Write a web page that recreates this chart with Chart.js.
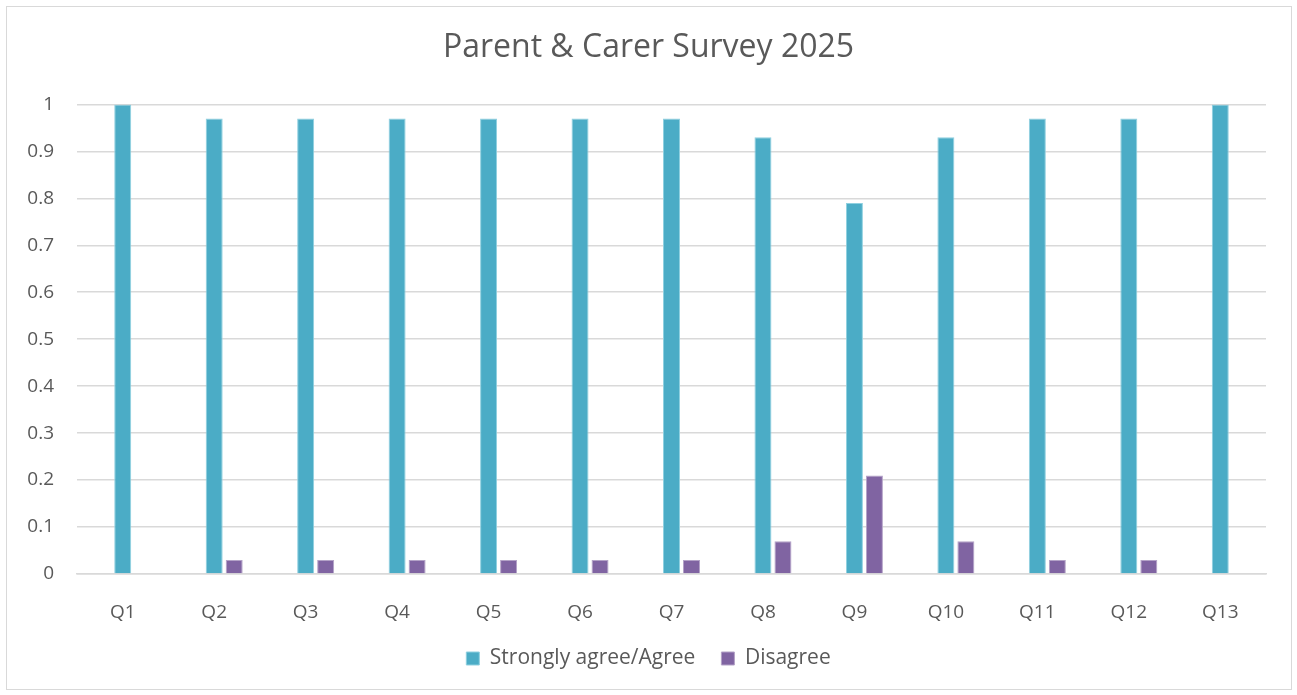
<!DOCTYPE html>
<html>
<head>
<meta charset="utf-8">
<script src="https://cdn.jsdelivr.net/npm/chart.js@4"></script>
<style>
  html, body { margin: 0; padding: 0; background: #fff; }
  #wrap { position: relative; width: 1297px; height: 695px; }
  #frame { position: absolute; left: 6px; top: 6px; width: 1286px; height: 684px; border: 1px solid #d9d9d9; box-sizing: border-box; pointer-events: none; }
</style>
</head>
<body>
<div id="wrap">
  <canvas id="surveyChart" width="1297" height="695"></canvas>
  <div id="frame"></div>
</div>
<script>
const questions = ['Q1', 'Q2', 'Q3', 'Q4', 'Q5', 'Q6', 'Q7', 'Q8', 'Q9', 'Q10', 'Q11', 'Q12', 'Q13'];
const agree = [1, 0.97, 0.97, 0.97, 0.97, 0.97, 0.97, 0.93, 0.79, 0.93, 0.97, 0.97, 1];
const disagree = [0, 0.03, 0.03, 0.03, 0.03, 0.03, 0.03, 0.07, 0.21, 0.07, 0.03, 0.03, 0];
// empty series that keeps the visible bars off-centre like the original
const unused = [null, null, null, null, null, null, null, null, null, null, null, null, null];

const textGrey = '#595959';
const gridGrey = '#d9d9d9';
Chart.defaults.font.family = '"Open Sans", sans-serif';
Chart.defaults.color = textGrey;

const ctx = document.getElementById('surveyChart').getContext('2d');

const surveyData = {
    labels: questions,
    datasets: [{
        label: '',
        data: unused,
        backgroundColor: 'rgba(0,0,0,0)'
    }, {
        label: 'Strongly agree/Agree',
        data: agree,
        backgroundColor: '#4bacc6',
        borderColor: '#8fd0e0',
        borderWidth: 1
    }, {
        label: 'Disagree',
        data: disagree,
        backgroundColor: '#8064a2',
        borderColor: '#b3a2c7',
        borderWidth: 1
    }]
};

const config = {
    type: 'bar',
    data: surveyData,
    options: {
        responsive: false,
        animation: false,
        categoryPercentage: 0.656,
        barPercentage: 0.85,
        layout: {
            padding: { left: 0, right: 0, top: 0, bottom: 16 }
        },
        plugins: {
            title: {
                display: true,
                text: 'Parent & Carer Survey 2025',
                color: textGrey,
                font: { size: 32, weight: 'normal' },
                padding: { top: 29, bottom: 37 }
            },
            legend: {
                display: true,
                position: 'bottom',
                labels: {
                    boxWidth: 13,
                    boxHeight: 13,
                    color: textGrey,
                    font: { size: 21 },
                    padding: 26,
                    filter: (item) => item.text !== ''
                }
            },
            tooltip: { enabled: false }
        },
        scales: {
            x: {
                afterFit: (scale) => { scale.height = 48; },
                grid: { display: false },
                border: { display: true, color: gridGrey, width: 1.5 },
                ticks: { color: textGrey, font: { size: 19 }, padding: 19 }
            },
            y: {
                min: 0,
                max: 1,
                afterFit: (scale) => { scale.width = 77; },
                grid: { color: gridGrey, lineWidth: 1.5, drawTicks: false },
                border: { display: false },
                ticks: {
                    stepSize: 0.1,
                    color: textGrey,
                    font: { size: 19 },
                    padding: 23,
                    callback: (v) => String(Math.round(v * 10) / 10)
                }
            },
            // blank right-hand margin so the title and legend centre on the whole page
            yRight: {
                position: 'right',
                min: 0,
                max: 1,
                afterFit: (scale) => { scale.width = 31; },
                grid: { display: false },
                border: { display: false },
                ticks: { display: false }
            }
        }
    }
};

const surveyChart = new Chart(ctx, config);
</script>
</body>
</html>
